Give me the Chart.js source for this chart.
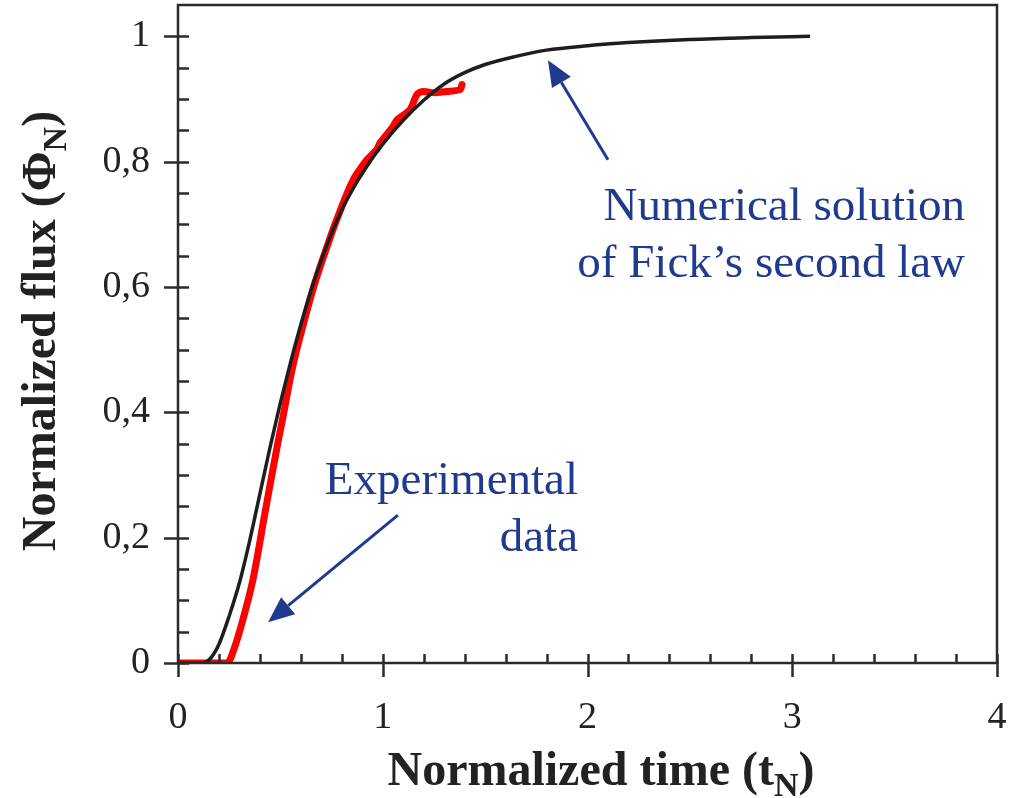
<!DOCTYPE html>
<html>
<head>
<meta charset="utf-8">
<script src="https://cdn.jsdelivr.net/npm/chart.js@4.4.1/dist/chart.umd.min.js"></script>
<style>
  html, body { margin:0; padding:0; background:#fff; }
  #wrap { width:1009px; height:798px; }
</style>
</head>
<body>
<div id="wrap"><canvas id="chart" width="1009" height="798"></canvas></div>
<script>
// Numerical solution of Fick's second law (black)
const fickTime = [0, 0.10, 0.12, 0.16, 0.20, 0.25, 0.30, 0.35, 0.40, 0.45, 0.50, 0.55, 0.60, 0.65, 0.70, 0.75, 0.80, 0.875, 0.95, 1.0, 1.1, 1.2, 1.3, 1.4, 1.5, 1.65, 1.8, 2.0, 2.2, 2.5, 2.8, 3.087];
const fickFlux = [0, 0, 0, 0.008, 0.03, 0.075, 0.128, 0.195, 0.27, 0.345, 0.415, 0.48, 0.54, 0.595, 0.643, 0.686, 0.723, 0.768, 0.806, 0.828, 0.866, 0.898, 0.924, 0.942, 0.955, 0.968, 0.978, 0.985, 0.99, 0.995, 0.998, 1.0];

// Experimental data (red)
const expTime = [0, 0.24, 0.26, 0.303, 0.366, 0.425, 0.484, 0.513, 0.547, 0.58, 0.669, 0.752, 0.776, 0.82, 0.85, 0.864, 0.923, 0.972, 0.987, 1.05, 1.07, 1.133, 1.167, 1.197, 1.25, 1.31, 1.377, 1.387];
const expFlux = [0, 0, 0.01, 0.053, 0.133, 0.24, 0.345, 0.393, 0.452, 0.5, 0.607, 0.687, 0.708, 0.745, 0.767, 0.776, 0.803, 0.82, 0.83, 0.856, 0.867, 0.883, 0.907, 0.912, 0.91, 0.912, 0.915, 0.923];

// ticks
const xTicks = [0, 1, 2, 3, 4];
const xTickLabels = ['0', '1', '2', '3', '4'];
const yTicks = [0, 0.2, 0.4, 0.6, 0.8, 1];
const yTickLabels = ['0', '0,2', '0,4', '0,6', '0,8', '1'];

const SERIF = "'Liberation Serif', 'Times New Roman', serif";
const AXIS = '#2b2b2b';
const NAVY = '#1f3a8f';

const toXY = (xs, ys) => xs.map((x, i) => ({x, y: ys[i]}));
const noPad = s => { s.paddingTop = 0; s.paddingBottom = 0; s.paddingLeft = 0; s.paddingRight = 0; };

// draws axis frame, tick marks, titles and the two annotations
const decor = {
  id: 'decor',
  afterDraw(chart){
    const ctx = chart.ctx;
    const {left, right, top, bottom} = chart.chartArea;
    const sx = chart.scales.x, sy = chart.scales.y;
    ctx.save();
    ctx.strokeStyle = AXIS;
    ctx.lineWidth = 2.5;
    ctx.strokeRect(left, top, right - left, bottom - top);

    // y ticks: major cross the axis, minor inside
    ctx.beginPath();
    for (let k = 0; k <= 20; k++){
      const v = k * 0.05;
      const py = Math.round(sy.getPixelForValue(v)) + 0.5;
      const major = k % 4 === 0;
      ctx.moveTo(major ? left - 14 : left, py);
      ctx.lineTo(left + 11, py);
    }
    // x ticks
    for (let k = 0; k <= 20; k++){
      const v = k * 0.2;
      const px = Math.round(sx.getPixelForValue(v)) + 0.5;
      const major = k % 5 === 0;
      ctx.moveTo(px, bottom - 9);
      ctx.lineTo(px, major ? bottom + 14 : bottom);
    }
    ctx.stroke();

    // axis titles with subscripts
    const titleWithSub = (pre, sub, post, size, subSize, drop) => {
      ctx.font = `bold ${size}px ${SERIF}`;
      const w1 = ctx.measureText(pre).width;
      const w3 = ctx.measureText(post).width;
      ctx.font = `bold ${subSize}px ${SERIF}`;
      const w2 = ctx.measureText(sub).width;
      let x0 = -(w1 + w2 + w3) / 2;
      ctx.textAlign = 'left';
      ctx.textBaseline = 'alphabetic';
      ctx.font = `bold ${size}px ${SERIF}`;
      ctx.fillText(pre, x0, 0);
      ctx.font = `bold ${subSize}px ${SERIF}`;
      ctx.fillText(sub, x0 + w1, drop);
      ctx.font = `bold ${size}px ${SERIF}`;
      ctx.fillText(post, x0 + w1 + w2, 0);
    };
    ctx.fillStyle = '#222';
    ctx.save();
    ctx.translate(601, 785);
    titleWithSub('Normalized time (t', 'N', ')', 48, 34, 11);
    ctx.restore();
    ctx.save();
    ctx.translate(55, 331);
    ctx.rotate(-Math.PI / 2);
    titleWithSub('Normalized flux (\u03A6', 'N', ')', 48, 34, 11);
    ctx.restore();

    // annotations
    const arrow = (t0, f0, t1, f1) => {
      const x0 = sx.getPixelForValue(t0), y0 = sy.getPixelForValue(f0);
      const x1 = sx.getPixelForValue(t1), y1 = sy.getPixelForValue(f1);
      const a = Math.atan2(y1 - y0, x1 - x0);
      const hl = 26, hw = 11;
      const bx = x1 - hl * Math.cos(a), by = y1 - hl * Math.sin(a);
      ctx.strokeStyle = NAVY;
      ctx.fillStyle = NAVY;
      ctx.lineWidth = 3;
      ctx.beginPath();
      ctx.moveTo(x0, y0);
      ctx.lineTo(bx, by);
      ctx.stroke();
      ctx.beginPath();
      ctx.moveTo(x1, y1);
      ctx.lineTo(bx + hw * Math.sin(a), by - hw * Math.cos(a));
      ctx.lineTo(bx - hw * Math.sin(a), by + hw * Math.cos(a));
      ctx.closePath();
      ctx.fill();
    };
    arrow(2.1, 0.803, 1.807, 0.962);
    arrow(1.074, 0.236, 0.44, 0.065);

    ctx.fillStyle = NAVY;
    ctx.font = `47px ${SERIF}`;
    ctx.textAlign = 'right';
    ctx.textBaseline = 'alphabetic';
    ctx.fillText('Numerical solution', 965, 220);
    ctx.fillText('of Fick\u2019s second law', 965, 277);
    ctx.fillText('Experimental', 578, 494);
    ctx.fillText('data', 578, 551);
    ctx.restore();
  }
};

new Chart(document.getElementById('chart'), {
  type: 'line',
  data: {
    datasets: [
      {
        label: 'Numerical solution of Fick\u2019s second law',
        data: toXY(fickTime, fickFlux),
        borderColor: '#1e1e1e',
        borderWidth: 3.5,
        pointRadius: 0,
        cubicInterpolationMode: 'monotone',
        fill: false
      },
      {
        label: 'Experimental data',
        data: toXY(expTime, expFlux),
        borderColor: '#ff0000',
        borderWidth: 7,
        pointRadius: 0,
        tension: 0.3,
        borderCapStyle: 'round',
        borderJoinStyle: 'round',
        fill: false
      }
    ]
  },
  options: {
    responsive: false,
    animation: false,
    devicePixelRatio: 1,
    layout: { padding: { top: 5, right: 12, left: 0, bottom: 0 } },
    plugins: { legend: { display: false }, tooltip: { enabled: false } },
    scales: {
      x: {
        type: 'linear', min: 0, max: 4,
        afterBuildTicks: s => { s.ticks = xTicks.map(v => ({value: v})); },
        afterFit: s => { s.height = 135; noPad(s); },
        grid: { display: false, drawTicks: false },
        border: { display: false },
        ticks: {
          callback: (v, i) => xTickLabels[i],
          font: { family: SERIF, size: 38 }, color: '#222', padding: 32,
          maxRotation: 0, autoSkip: false
        }
      },
      y: {
        type: 'linear', min: 0, max: 1.05,
        afterBuildTicks: s => { s.ticks = yTicks.map(v => ({value: v})); },
        afterFit: s => { s.width = 178; noPad(s); },
        grid: { display: false, drawTicks: false },
        border: { display: false },
        ticks: {
          callback: (v, i) => yTickLabels[i],
          font: { family: SERIF, size: 38 }, color: '#222', padding: 28,
          autoSkip: false
        }
      }
    }
  },
  plugins: [decor]
});
</script>
</body>
</html>
